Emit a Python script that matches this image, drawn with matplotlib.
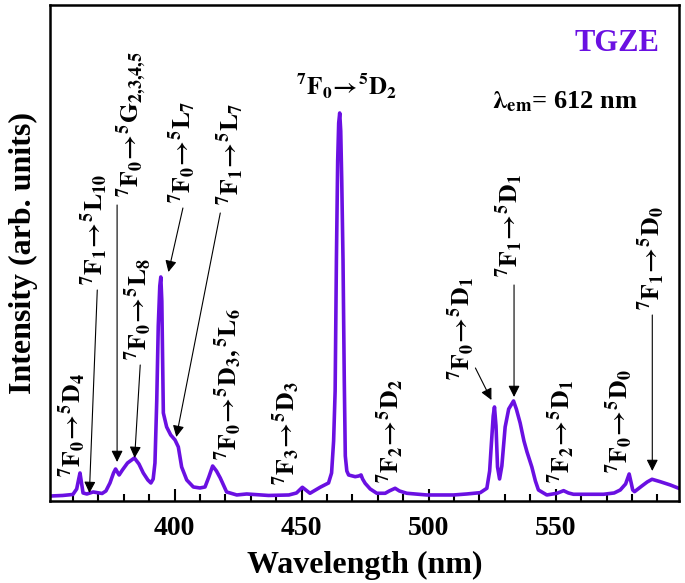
import matplotlib
matplotlib.use('Agg')
import matplotlib.pyplot as plt
from matplotlib.ticker import MultipleLocator

plt.rcParams['font.family'] = 'Liberation Serif'
plt.rcParams['font.weight'] = 'bold'
plt.rcParams['mathtext.fontset'] = 'stix'
plt.rcParams['mathtext.default'] = 'bf'

# excitation spectrum (intensity in arb. units)
wavelength = [351.5, 356, 360, 361.5, 362.3, 362.8, 363.4, 364.0, 365.5, 368, 371.5, 373,
              374.6, 376, 376.8, 378.2, 379.5, 381.5, 384.2, 386, 387.7, 389.5, 390.7,
              391.6, 392.3, 393.0, 393.6, 394.2, 394.6, 395.0, 395.6, 396.9, 398.5, 400.2,
              401.5, 402.8, 404.8, 407.4, 410, 412, 413.5, 415, 416.5, 418, 420.5, 424.5,
              428.4, 437, 445, 448, 450.3, 453.3, 457.3, 460.6, 461.8, 462.6, 463.2, 463.7,
              464.2, 464.6, 465.0, 465.4, 465.8, 466.3, 466.8, 467.2, 467.8, 468.5, 470,
              471.1, 472.5, 473.4, 474, 475, 477, 479.6, 482.9, 484.5, 486.8, 488.5, 491.4,
              499.3, 509.8, 515, 520.3, 522.9, 524.0, 524.6, 525.4, 525.9, 526.5, 527.1,
              527.9, 528.8, 530.1, 531.5, 533.4, 534.5, 536, 537.5, 538.7, 540.6, 542,
              543.2, 546.5, 550.5, 553.1, 555, 557, 568.8, 573, 575.4, 577.5, 578.9, 579.7,
              580.3, 581, 583.9, 586, 587.9, 591.1, 595.1, 598.4]
intensity = [5, 5.5, 6.5, 12, 22, 28, 18, 8, 7, 9, 7.5, 10,
             18, 28, 32, 26, 31, 38, 43, 37, 28, 21, 18,
             22, 38, 100, 175, 215, 224, 200, 88, 74, 66, 61,
             54, 34, 21, 14, 13, 14, 24, 35, 30, 23, 9, 6,
             7, 5.5, 6, 8, 13.7, 7.7, 13.7, 18, 28, 60, 110, 241,
             340, 378, 388, 370, 320, 241, 120, 45, 30, 26, 25,
             24.3, 25, 26, 22, 17.7, 12, 7.7, 7.7, 10, 12.7, 10, 7.7,
             6, 6, 7, 8.3, 12.7, 30, 54, 85, 94, 75, 34,
             22, 35, 74, 92, 100, 92, 78, 60, 49, 34, 20,
             11, 6, 7.7, 10.3, 8, 6.7, 6.7, 8, 11, 17, 27, 18,
             11, 9.3, 15, 19, 21.7, 19.3, 16, 12.7]

# vertical transition labels: text, x centre, y bottom
vert_labels = [r'$^{7}F_{0}\!\rightarrow\!{}^{5}D_{4}$',
               r'$^{7}F_{1}\!\rightarrow\!{}^{5}L_{10}$',
               r'$^{7}F_{0}\!\rightarrow\!{}^{5}G_{2{,}3{,}4{,}5}$',
               r'$^{7}F_{0}\!\rightarrow\!{}^{5}L_{8}$',
               r'$^{7}F_{0}\!\rightarrow\!{}^{5}L_{7}$',
               r'$^{7}F_{1}\!\rightarrow\!{}^{5}L_{7}$',
               r'$^{7}F_{0}\!\rightarrow\!{}^{5}D_{3}{,}\,{}^{5}L_{6}$',
               r'$^{7}F_{3}\!\rightarrow\!{}^{5}D_{3}$',
               r'$^{7}F_{2}\!\rightarrow\!{}^{5}D_{2}$',
               r'$^{7}F_{0}\!\rightarrow\!{}^{5}D_{1}$',
               r'$^{7}F_{1}\!\rightarrow\!{}^{5}D_{1}$',
               r'$^{7}F_{2}\!\rightarrow\!{}^{5}D_{1}$',
               r'$^{7}F_{0}\!\rightarrow\!{}^{5}D_{0}$',
               r'$^{7}F_{1}\!\rightarrow\!{}^{5}D_{0}$']
vert_x = [359.8, 368.3, 383.0, 385.7, 403.0, 421.9, 421.2, 443.9, 485.1, 512.9, 531.9,
          552.3, 575.1, 587.7]
vert_y = [24, 216, 304, 141, 298, 296, 41, 16, 18, 121, 224, 18, 28, 191]

# arrows: start (x, y) -> end (x, y)
arrow_x0 = [369.6, 377.4, 386.5, 403.3, 418.0, 518.4, 533.6, 588.0]
arrow_y0 = [211, 296, 136, 293, 288, 133, 216, 186]
arrow_x1 = [366.5, 377.4, 384.3, 397.6, 400.7, 524.7, 533.6, 588.0]
arrow_y1 = [8, 39, 43, 229, 64, 101, 104, 30]

purple = '#6A10E2'

fig = plt.figure(figsize=(6.85, 5.83), dpi=100)
ax = fig.add_axes([0.073, 0.1407, 0.9182, 0.8507])

ax.plot(wavelength, intensity, color=purple, lw=2.6, solid_joinstyle='round')

for txt, x, y in zip(vert_labels, vert_x, vert_y):
    ax.text(x, y, txt, rotation=90, ha='center', va='bottom', fontsize=18.5)

for x0, y0, x1, y1 in zip(arrow_x0, arrow_y0, arrow_x1, arrow_y1):
    ax.annotate('', xy=(x1, y1), xytext=(x0, y0),
                arrowprops=dict(arrowstyle='-|>', color='black', lw=0.8,
                                mutation_scale=17, shrinkA=0, shrinkB=0))

ax.text(467.8, 406, r'$^{7}F_{0}\!\rightarrow\!{}^{5}D_{2}$', ha='center', va='baseline',
        fontsize=18)
ax.text(574.0, 458, 'TGZE', color=purple, ha='center', va='center', fontsize=22)
ax.text(553.5, 393, r'$\lambda_{em}$= 612 nm', ha='center', va='baseline', fontsize=19)

ax.set_xlim(351, 598.5)
ax.set_ylim(0, 496)
ax.xaxis.set_major_locator(MultipleLocator(50))
ax.xaxis.set_minor_locator(MultipleLocator(10))
ax.set_yticks([])
ax.tick_params(axis='x', which='major', direction='in', length=9, width=1.5,
               labelsize=20, pad=11)
ax.tick_params(axis='x', which='minor', direction='in', length=5, width=1.5)
for s in ax.spines.values():
    s.set_linewidth(1.8)

ax.set_xlabel('Wavelength (nm)', fontsize=23, fontweight='bold', labelpad=7)
ax.set_ylabel('Intensity (arb. units)', fontsize=23, fontweight='bold', labelpad=9)

fig.savefig('out.png', dpi=100)
